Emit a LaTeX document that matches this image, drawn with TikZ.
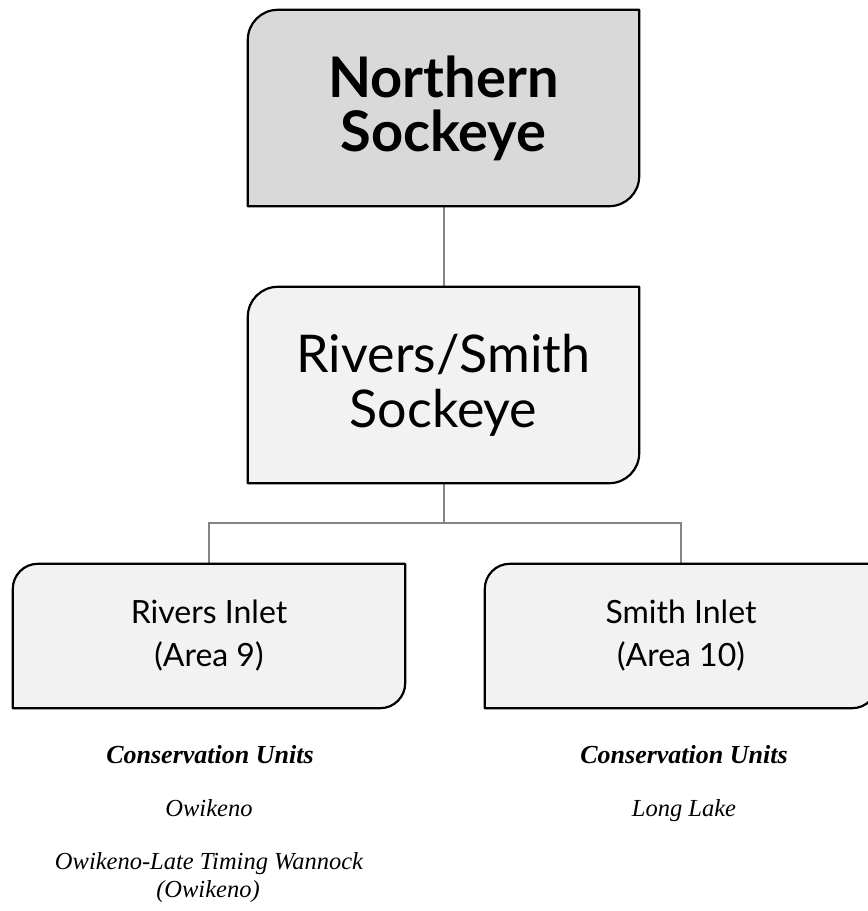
\documentclass[tikz,border=0pt]{standalone}
\usepackage{fontspec}
\setmainfont{Liberation Serif}
\newfontfamily\boxfont{Lato}
\usetikzlibrary{backgrounds}
\pgfdeclarelayer{connlayer}
\pgfdeclarelayer{boxlayer}
\pgfsetlayers{connlayer,boxlayer,main}
\definecolor{topfill}{HTML}{D9D9D9}
\definecolor{lowfill}{HTML}{F2F2F2}
\definecolor{conngray}{HTML}{858585}
\tikzset{
  slot/.style={rectangle, draw=none, inner sep=0pt, align=center, text=black},
  connector/.style={draw=conngray, line width=2pt},
  boxline/.style={draw=black, line width=2.2pt, line join=round},
  cutext/.style={anchor=base, inner sep=0pt, font=\fontsize{24.5}{28}\selectfont\itshape},
  cuhead/.style={anchor=base, inner sep=0pt, font=\fontsize{26}{30}\selectfont\bfseries\itshape},
}
\newcommand{\tabbox}[3]{% name, radius, fill
  \begin{pgfonlayer}{boxlayer}
  \draw[boxline, fill=#3] (#1.south west) -- ([yshift=-#2pt]#1.north west)
     arc[start angle=180, end angle=90, radius=#2pt] -- (#1.north east)
     -- ([yshift=#2pt]#1.south east)
     arc[start angle=0, end angle=-90, radius=#2pt] -- cycle;
  \end{pgfonlayer}
}
\begin{document}
\begin{tikzpicture}[x=1pt, y=1pt]
\useasboundingbox (0,0) rectangle (868,-911);
% nodes
\node[slot, minimum width=391pt, minimum height=196pt,
  font=\boxfont\bfseries\fontsize{56}{54}\selectfont] (north) at (443.5,-108) {Northern\\Sockeye};
\node[slot, minimum width=391pt, minimum height=196pt,
  font=\boxfont\fontsize{52}{55}\selectfont] (rs) at (443.5,-385) {Rivers/Smith\\Sockeye};
\node[slot, minimum width=392pt, minimum height=144pt,
  font=\boxfont\fontsize{32}{43}\selectfont] (rivers) at (209,-636) {Rivers Inlet\\(Area 9)};
\node[slot, minimum width=392pt, minimum height=144pt,
  font=\boxfont\fontsize{32}{43}\selectfont] (smith) at (681,-636) {Smith Inlet\\(Area 10)};
\coordinate (junc) at (443.5,-523);
% connectors
\begin{pgfonlayer}{connlayer}
\draw[connector] (north.south) -- (rs.north);
\draw[connector] (rs.south) -- (junc);
\draw[connector] (junc) -| (rivers.north);
\draw[connector] (junc) -| (smith.north);
\end{pgfonlayer}
% box shapes
\tabbox{north}{30}{topfill}
\tabbox{rs}{30}{lowfill}
\tabbox{rivers}{25}{lowfill}
\tabbox{smith}{25}{lowfill}
% conservation unit texts
\node[cuhead] (cuL) at (210,-763) {Conservation Units};
\node[cutext] (owik) at (209,-816) {Owikeno};
\node[cutext] (owlate) at (209,-869) {Owikeno-Late Timing Wannock};
\node[cutext] (owlate2) at (208,-897) {(Owikeno)};
\node[cuhead] (cuR) at (684,-763) {Conservation Units};
\node[cutext] (longlake) at (684,-816) {Long Lake};
\end{tikzpicture}
\end{document}
